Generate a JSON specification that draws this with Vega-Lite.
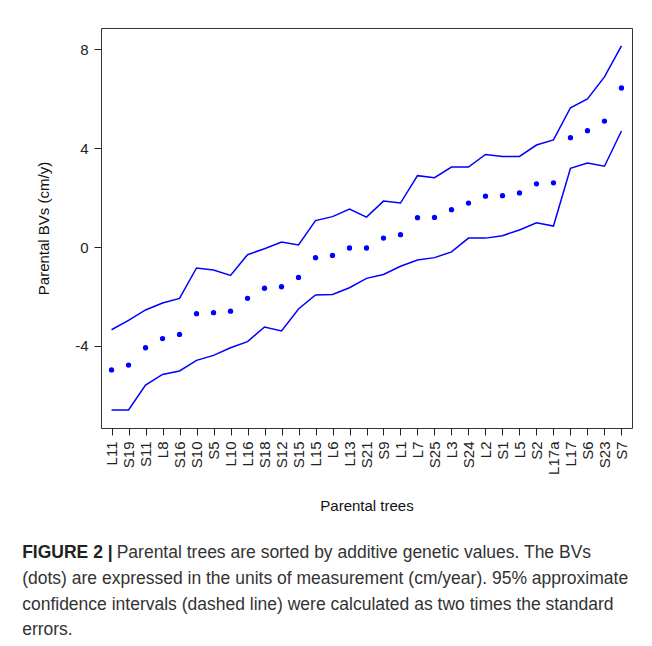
{
  "$schema": "https://vega.github.io/schema/vega-lite/v6.json",
  "padding": {"left": 22, "top": 27, "right": 0, "bottom": 0},
  "background": "white",
  "config": {
    "font": "Liberation Sans",
    "view": {"stroke": "#333", "strokeWidth": 1},
    "axis": {
      "grid": false,
      "domain": false,
      "tickColor": "#222",
      "tickSize": 7,
      "labelColor": "#222",
      "labelFontSize": 15,
      "titleFontSize": 15,
      "titleFontWeight": "normal",
      "titleColor": "#111",
      "labelPadding": 6
    }
  },
  "title": {
    "text": "FIGURE 2 |",
    "subtitle": [
      "(dots) are expressed in the units of measurement (cm/year). 95% approximate",
      "confidence intervals (dashed line) were calculated as two times the standard",
      "errors."
    ],
    "orient": "bottom",
    "anchor": "start",
    "dx": -14,
    "offset": -18,
    "fontSize": 17.5,
    "fontWeight": "bold",
    "color": "#222",
    "subtitleFontSize": 17.5,
    "subtitleColor": "#333",
    "subtitleLineHeight": 25.7,
    "subtitlePadding": 8
  },
  "vconcat": [
    {
      "width": 531,
      "height": 400,
      "title": {
        "text": "Parental trees are sorted by additive genetic values. The BVs",
        "orient": "bottom",
        "anchor": "start",
        "dx": 80,
        "offset": 31,
        "fontSize": 17.5,
        "fontWeight": "normal",
        "color": "#333"
      },
      "data": {
        "values": [
          {"rank": 1, "tree": "L11", "bv": -4.98, "lo": -6.60, "up": -3.35},
          {"rank": 2, "tree": "S19", "bv": -4.78, "lo": -6.60, "up": -2.97},
          {"rank": 3, "tree": "S11", "bv": -4.08, "lo": -5.59, "up": -2.55},
          {"rank": 4, "tree": "L8", "bv": -3.71, "lo": -5.16, "up": -2.27},
          {"rank": 5, "tree": "S16", "bv": -3.54, "lo": -5.02, "up": -2.08},
          {"rank": 6, "tree": "S10", "bv": -2.70, "lo": -4.59, "up": -0.85},
          {"rank": 7, "tree": "S5", "bv": -2.66, "lo": -4.39, "up": -0.93},
          {"rank": 8, "tree": "L10", "bv": -2.60, "lo": -4.08, "up": -1.15},
          {"rank": 9, "tree": "L16", "bv": -2.08, "lo": -3.83, "up": -0.31},
          {"rank": 10, "tree": "S18", "bv": -1.67, "lo": -3.24, "up": -0.07},
          {"rank": 11, "tree": "S12", "bv": -1.61, "lo": -3.40, "up": 0.20},
          {"rank": 12, "tree": "S15", "bv": -1.23, "lo": -2.51, "up": 0.08},
          {"rank": 13, "tree": "L15", "bv": -0.43, "lo": -1.94, "up": 1.07},
          {"rank": 14, "tree": "L6", "bv": -0.34, "lo": -1.92, "up": 1.23},
          {"rank": 15, "tree": "L13", "bv": -0.04, "lo": -1.65, "up": 1.54},
          {"rank": 16, "tree": "S21", "bv": -0.04, "lo": -1.27, "up": 1.21},
          {"rank": 17, "tree": "S9", "bv": 0.36, "lo": -1.11, "up": 1.86},
          {"rank": 18, "tree": "L1", "bv": 0.50, "lo": -0.78, "up": 1.78},
          {"rank": 19, "tree": "L7", "bv": 1.19, "lo": -0.53, "up": 2.89},
          {"rank": 20, "tree": "S25", "bv": 1.20, "lo": -0.43, "up": 2.81},
          {"rank": 21, "tree": "L3", "bv": 1.51, "lo": -0.20, "up": 3.24},
          {"rank": 22, "tree": "S24", "bv": 1.78, "lo": 0.36, "up": 3.24},
          {"rank": 23, "tree": "L2", "bv": 2.06, "lo": 0.36, "up": 3.75},
          {"rank": 24, "tree": "S1", "bv": 2.08, "lo": 0.46, "up": 3.67},
          {"rank": 25, "tree": "L5", "bv": 2.19, "lo": 0.69, "up": 3.67},
          {"rank": 26, "tree": "S2", "bv": 2.56, "lo": 0.98, "up": 4.13},
          {"rank": 27, "tree": "L17a", "bv": 2.60, "lo": 0.85, "up": 4.34},
          {"rank": 28, "tree": "L17", "bv": 4.43, "lo": 3.19, "up": 5.64},
          {"rank": 29, "tree": "S6", "bv": 4.71, "lo": 3.40, "up": 6.00},
          {"rank": 30, "tree": "S23", "bv": 5.10, "lo": 3.27, "up": 6.89},
          {"rank": 31, "tree": "S7", "bv": 6.44, "lo": 4.70, "up": 8.15}
        ]
      },
      "encoding": {
        "x": {
          "field": "tree",
          "type": "ordinal",
          "sort": null,
          "scale": {"type": "point", "padding": 0.62},
          "axis": {"labelAngle": 270, "title": "Parental trees", "titlePadding": 24}
        }
      },
      "layer": [
        {
          "mark": {"type": "line", "color": "#0000ff", "strokeWidth": 1.5},
          "encoding": {
            "y": {
              "field": "up",
              "type": "quantitative",
              "scale": {"domain": [-7.33, 8.87], "nice": false, "zero": false},
              "axis": {
                "values": [-4, 0, 4, 8],
                "labelAngle": 0,
                "labelExpr": "datum.value < 0 ? '-' + abs(datum.value) : '' + datum.value",
                "title": "Parental BVs (cm/y)",
                "titlePadding": 23
              }
            },
            "order": {"field": "rank", "type": "quantitative"}
          }
        },
        {
          "mark": {"type": "line", "color": "#0000ff", "strokeWidth": 1.5},
          "encoding": {
            "y": {"field": "lo", "type": "quantitative", "scale": {"domain": [-7.33, 8.87], "nice": false, "zero": false}},
            "order": {"field": "rank", "type": "quantitative"}
          }
        },
        {
          "mark": {"type": "point", "filled": true, "color": "#0000ff", "size": 28, "opacity": 1},
          "encoding": {
            "y": {"field": "bv", "type": "quantitative", "scale": {"domain": [-7.33, 8.87], "nice": false, "zero": false}}
          }
        }
      ]
    }
  ]
}
